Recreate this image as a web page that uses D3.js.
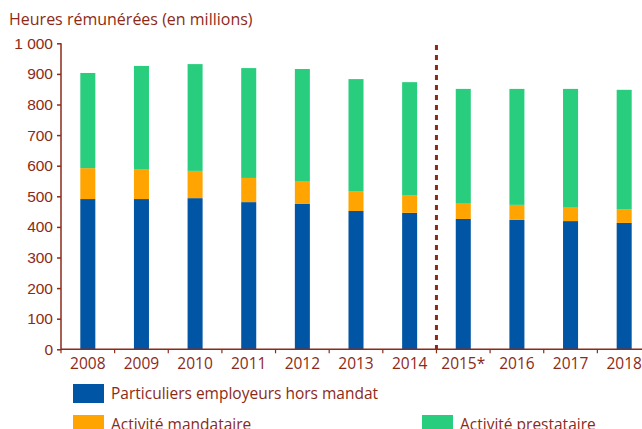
<!DOCTYPE html>
<html>
<head>
<meta charset="utf-8">
<script src="https://cdn.jsdelivr.net/npm/d3@7"></script>
<style>
  body { margin: 0; background: #fff; }
  svg { display: block; font-family: "Open Sans", sans-serif; }
</style>
</head>
<body>
<div id="vis"></div>
<script>
// Heures rémunérées par type d'activité (en millions)
const years       = ["2008","2009","2010","2011","2012","2013","2014","2015*","2016","2017","2018"];
const employeurs  = [491, 491, 494, 481, 475, 452, 446, 426, 423, 419, 413];
const mandataire  = [101,  98,  89,  79,  75,  65,  58,  52,  49,  46,  45];
const prestataire = [311, 337, 349, 359, 366, 366, 369, 373, 379, 386, 390];
const yTicks      = [0, 100, 200, 300, 400, 500, 600, 700, 800, 900, 1000];

const SERIES = [
  { key: "employeurs",  label: "Particuliers employeurs hors mandat", color: "#0055a4", values: employeurs },
  { key: "mandataire",  label: "Activité mandataire",                 color: "#ffa400", values: mandataire },
  { key: "prestataire", label: "Activité prestataire",                color: "#29cd7e", values: prestataire }
];

const TXT = "#8c2a18";
const width = 642, height = 429;
const svg = d3.select("#vis").append("svg")
  .attr("width", width).attr("height", height);

const x = d3.scaleBand().domain(years).range([61, 651])
  .paddingInner(0.72).paddingOuter(0.36);
const y = d3.scaleLinear().domain([0, 1000]).range([349.3, 43.3]);

// empilement
const rows = years.map((yr, i) => {
  const r = { year: yr };
  SERIES.forEach(s => r[s.key] = s.values[i]);
  return r;
});
const stack = d3.stack().keys(SERIES.map(s => s.key))(rows);

svg.append("g").selectAll("g").data(stack).join("g")
  .attr("fill", (d, i) => SERIES[i].color)
  .selectAll("rect").data(d => d).join("rect")
  .attr("x", d => x(d.data.year))
  .attr("width", x.bandwidth())
  .attr("y", d => y(d[1]))
  .attr("height", d => y(d[0]) - y(d[1]));

// axe Y
const yAxis = svg.append("g").attr("transform", "translate(61,0)")
  .call(d3.axisLeft(y).tickValues(yTicks).tickSize(4).tickPadding(4)
    .tickFormat(d => d3.format(",")(d).replace(",", " ")));
yAxis.select(".domain").attr("stroke", TXT).attr("stroke-width", 1.5).attr("d", `M0,${y(1000)}V${y(0)}`);
yAxis.selectAll(".tick line").attr("stroke", TXT).attr("stroke-width", 1.5);
yAxis.selectAll("text").attr("fill", TXT).attr("font-size", 15.5);

// axe X
const xAxis = svg.append("g").attr("transform", `translate(0,${y(0)})`);
xAxis.append("line").attr("x1", 61).attr("x2", width)
  .attr("stroke", TXT).attr("stroke-width", 1.5);
const bounds = d3.range(years.length + 1).map(i => x.range()[0] + i * x.step());
xAxis.selectAll("line.tk").data(bounds).join("line").attr("class", "tk")
  .attr("x1", d => d).attr("x2", d => d).attr("y1", 0).attr("y2", 4)
  .attr("stroke", TXT).attr("stroke-width", 1.2);
xAxis.selectAll("text").data(years).join("text")
  .attr("x", d => x(d) + x.bandwidth() / 2).attr("y", 20)
  .attr("text-anchor", "middle").attr("fill", TXT).attr("font-size", 15.5)
  .text(d => d);

// rupture de série 2015
const brk = bounds[years.indexOf("2015*")];
svg.append("line")
  .attr("x1", brk).attr("x2", brk).attr("y1", 45).attr("y2", y(0))
  .attr("stroke", TXT).attr("stroke-width", 3).attr("stroke-dasharray", "5 5");

// titre
svg.append("text").attr("x", 9).attr("y", 25)
  .attr("fill", TXT).attr("font-size", 16)
  .text("Heures rémunérées (en millions)");

// légende
const legPos = [[73, 384], [73, 415], [422, 415]];
const leg = svg.append("g").selectAll("g").data(SERIES).join("g")
  .attr("transform", (d, i) => `translate(${legPos[i][0]},${legPos[i][1]})`);
leg.append("rect").attr("width", 31).attr("height", 19).attr("fill", d => d.color);
leg.append("text").attr("x", 38).attr("y", 15)
  .attr("fill", TXT).attr("font-size", 15.5).text(d => d.label);
</script>
</body>
</html>
